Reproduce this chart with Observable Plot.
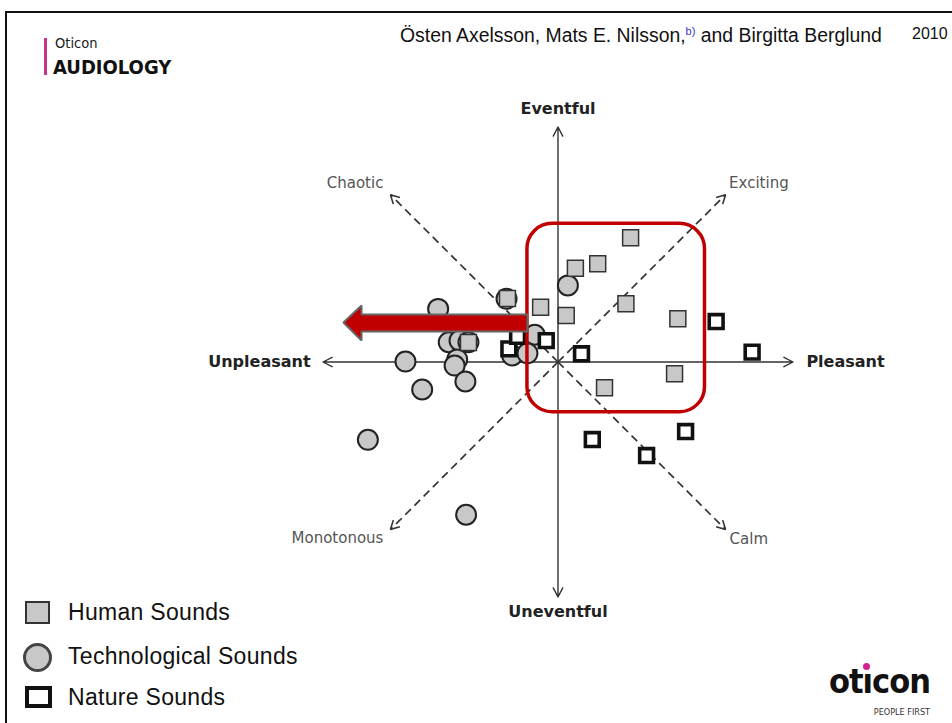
<!DOCTYPE html>
<html><head><meta charset="utf-8">
<script src="https://cdn.jsdelivr.net/npm/d3@7"></script>
<script src="https://cdn.jsdelivr.net/npm/@observablehq/plot@0.6"></script>
<style>
html,body{margin:0;padding:0;background:#fff;overflow:hidden}
#wrap{position:relative;width:952px;height:723px;background:#fff}
#chart svg{display:block;position:absolute;left:0;top:0}
.abs{position:absolute;white-space:nowrap}
.leg{position:absolute;left:68px;font-family:"Liberation Sans",Arial,sans-serif;font-size:23px;line-height:23px;letter-spacing:0.3px;color:#111}
</style></head><body>
<div id="wrap">
  <div id="chart"></div>
  <div class="abs" style="left:5px;top:11px;right:0;height:2px;background:#111"></div>
  <div class="abs" style="left:5px;top:11px;bottom:0;width:2px;background:#111"></div>

  <div class="abs" style="left:44px;top:38px;width:3px;height:37px;background:#c8338b"></div>
  <div class="abs" style="left:55px;top:36px;font-family:'DejaVu Sans Condensed','DejaVu Sans',sans-serif;font-size:14.5px;line-height:14.5px;color:#222">Oticon</div>
  <div class="abs" style="left:53px;top:57px;font-family:'DejaVu Sans Condensed','DejaVu Sans',sans-serif;font-weight:bold;font-size:20px;line-height:20px;color:#111">AUDIOLOGY</div>

  <div class="abs" id="authors" style="left:400px;top:20px;font-family:'Liberation Sans',Arial,sans-serif;font-size:19.4px;line-height:22px;color:#111"></div>
  <div class="abs" id="year" style="left:912px;top:25px;font-family:'Liberation Sans',Arial,sans-serif;font-size:16px;line-height:18px;color:#111"></div>

  <div class="abs" style="left:25px;top:601px;width:25px;height:23px;box-sizing:border-box;border:2px solid #333;background:#c8c8c8"></div>
  <div class="abs" style="left:23px;top:643px;width:29px;height:29px;box-sizing:border-box;border:3px solid #444;border-radius:50%;background:#c8c8c8"></div>
  <div class="abs" style="left:25px;top:686px;width:27px;height:22px;box-sizing:border-box;border:4px solid #111;background:#fff"></div>
  <div class="leg" id="leg0" style="top:601px"></div>
  <div class="leg" id="leg1" style="top:645px"></div>
  <div class="leg" id="leg2" style="top:686px"></div>

  <div class="abs" style="right:22px;top:664px;font-family:'DejaVu Sans Condensed','DejaVu Sans',sans-serif;font-weight:bold;font-size:34px;line-height:34px;letter-spacing:-1px;color:#111">ot<span style="position:relative">ı<span style="position:absolute;left:50%;top:2px;width:7px;height:7px;margin-left:-4px;border-radius:50%;background:#d4238f"></span></span>con</div>
  <div class="abs" style="right:22px;top:707px;font-family:'DejaVu Sans Condensed','DejaVu Sans',sans-serif;font-size:9px;line-height:10px;color:#333">PEOPLE FIRST</div>
</div>
<script>
// ---------- data (perceptual space: Pleasant = x, Eventful = y) ----------
const humanX = [0.309, 0.169, 0.074, -0.074, 0.035, 0.289, 0.510, 0.496, 0.198, -0.215, -0.381];
const humanY = [0.529, 0.418, 0.399, 0.233, 0.198, 0.248, 0.184, -0.050, -0.110, 0.270, 0.083];

const techX = [-0.510, -0.219, -0.465, -0.419, -0.381, -0.429, -0.440, -0.649, -0.394, -0.578, -0.099, -0.195, -0.130, 0.042, -0.809, -0.391];
const techY = [0.226, 0.269, 0.084, 0.091, 0.084, 0.011, -0.015, 0.002, -0.083, -0.117, 0.116, 0.028, 0.037, 0.326, -0.331, -0.650];

const natureX = [0.673, 0.826, 0.100, 0.146, 0.543, 0.377, -0.209, -0.050, -0.172];
const natureY = [0.172, 0.042, 0.035, -0.330, -0.296, -0.398, 0.056, 0.091, 0.109];

const legendLabels = ["Human Sounds", "Technological Sounds", "Nature Sounds"];

const mainAxisNames = ["Pleasant", "Unpleasant", "Eventful", "Uneventful"];
const mainAxisEndX = [1, -1, 0, 0];
const mainAxisEndY = [0, 0, 1, -1];
const mainLabelX = [1.057, -1.053, 0, 0];
const mainLabelY = [0, 0, 1.077, -1.062];
const mainLabelAnchor = ["start", "end", "middle", "middle"];

const diagNames = ["Chaotic", "Exciting", "Monotonous", "Calm"];
const diagEndX = [-0.713, 0.713, -0.713, 0.713];
const diagEndY = [0.712, 0.712, -0.713, -0.713];
const diagLabelX = [-0.743, 0.728, -0.743, 0.730];
const diagLabelY = [0.760, 0.760, -0.751, -0.755];
const diagLabelAnchor = ["end", "start", "end", "start"];

// highlight box (Pleasant/Eventful quadrant) and shift arrow
const highlightX = [-0.130, 0.6255];
const highlightY = [-0.2136, 0.588];
const shiftArrowX = [-0.130, -0.836, -0.836, -0.913, -0.836, -0.836, -0.130, -0.130];
const shiftArrowY = [0.202, 0.202, 0.240, 0.168, 0.091, 0.130, 0.130, 0.202];

const headerAuthors = "Östen Axelsson, Mats E. Nilsson,";
const headerNote = "b)";
const headerRest = " and Birgitta Berglund";
const headerYear = "2010";

// ---------- build tables ----------
const human = humanX.map((x, i) => ({x, y: humanY[i]}));
const tech = techX.map((x, i) => ({x, y: techY[i]}));
const nature = natureX.map((x, i) => ({x, y: natureY[i]}));
const mainAxes = mainAxisNames.map((n, i) => ({name: n, x2: mainAxisEndX[i], y2: mainAxisEndY[i], lx: mainLabelX[i], ly: mainLabelY[i], anchor: mainLabelAnchor[i]}));
const diags = diagNames.map((n, i) => ({name: n, x2: diagEndX[i], y2: diagEndY[i], lx: diagLabelX[i], ly: diagLabelY[i], anchor: diagLabelAnchor[i]}));
// arrowhead wings for dashed diagonals
const wingLen = 0.042, wingAng = 28 * Math.PI / 180;
const wings = [];
diags.forEach(d => {
  const len = Math.hypot(d.x2, d.y2);
  const ux = -d.x2 / len, uy = -d.y2 / len;
  [wingAng, -wingAng].forEach(a => {
    const rx = ux * Math.cos(a) - uy * Math.sin(a);
    const ry = ux * Math.sin(a) + uy * Math.cos(a);
    wings.push({x1: d.x2, y1: d.y2, x2: d.x2 + wingLen * rx, y2: d.y2 + wingLen * ry});
  });
});
const box = [{x1: highlightX[0], x2: highlightX[1], y1: highlightY[0], y2: highlightY[1]}];
const shift = shiftArrowX.map((x, i) => ({x, y: shiftArrowY[i]}));

const GRAY = "#c8c8c8";
const labelFont = "'DejaVu Sans', Verdana, sans-serif";

const textMarks = [];
["start", "end", "middle"].forEach(a => {
  textMarks.push(Plot.text(mainAxes.filter(d => d.anchor === a), {x: "lx", y: "ly", text: "name", textAnchor: a, fontSize: 16, fontWeight: "bold", fontFamily: labelFont, fill: "#222"}));
  const dd = diags.filter(d => d.anchor === a);
  if (dd.length) textMarks.push(Plot.text(dd, {x: "lx", y: "ly", text: "name", textAnchor: a, fontSize: 15, fontFamily: labelFont, fill: "#555"}));
});

const chart = Plot.plot({
  width: 952,
  height: 723,
  margin: 0,
  x: {domain: [-2.3723, 1.6787], axis: null},
  y: {domain: [-1.5383, 1.5383], axis: null},
  style: {background: "transparent", overflow: "visible"},
  marks: [
    Plot.link(diags, {x1: 0, y1: 0, x2: "x2", y2: "y2", stroke: "#333", strokeWidth: 1.7, strokeDasharray: "8,5"}),
    Plot.link(wings, {x1: "x1", y1: "y1", x2: "x2", y2: "y2", stroke: "#333", strokeWidth: 1.6}),
    Plot.arrow(mainAxes, {x1: 0, y1: 0, x2: "x2", y2: "y2", stroke: "#333", strokeWidth: 1.4, headLength: 11, headAngle: 55}),
    Plot.dot(tech, {x: "x", y: "y", r: 10, fill: GRAY, stroke: "#222", strokeWidth: 2}),
    Plot.dot(human, {x: "x", y: "y", symbol: "square", r: 9, fill: GRAY, stroke: "#333", strokeWidth: 1.5}),
    Plot.dot(nature, {x: "x", y: "y", symbol: "square", r: 7.8, fill: "#fff", stroke: "#111", strokeWidth: 3.6}),
    Plot.rect(box, {x1: "x1", x2: "x2", y1: "y1", y2: "y2", rx: 25, fill: "none", stroke: "#c00000", strokeWidth: 3.5}),
    Plot.line(shift, {x: "x", y: "y", fill: "#c00000", stroke: "#666", strokeWidth: 2, strokeLinejoin: "miter"}),
    ...textMarks
  ]
});
document.getElementById("chart").appendChild(chart);

document.getElementById("authors").innerHTML = headerAuthors + '<sup style="color:#3333cc;font-size:11px;vertical-align:7px">' + headerNote + '</sup>' + headerRest;
document.getElementById("year").textContent = headerYear;
legendLabels.forEach((t, i) => document.getElementById("leg" + i).textContent = t);
</script>
</body></html>
